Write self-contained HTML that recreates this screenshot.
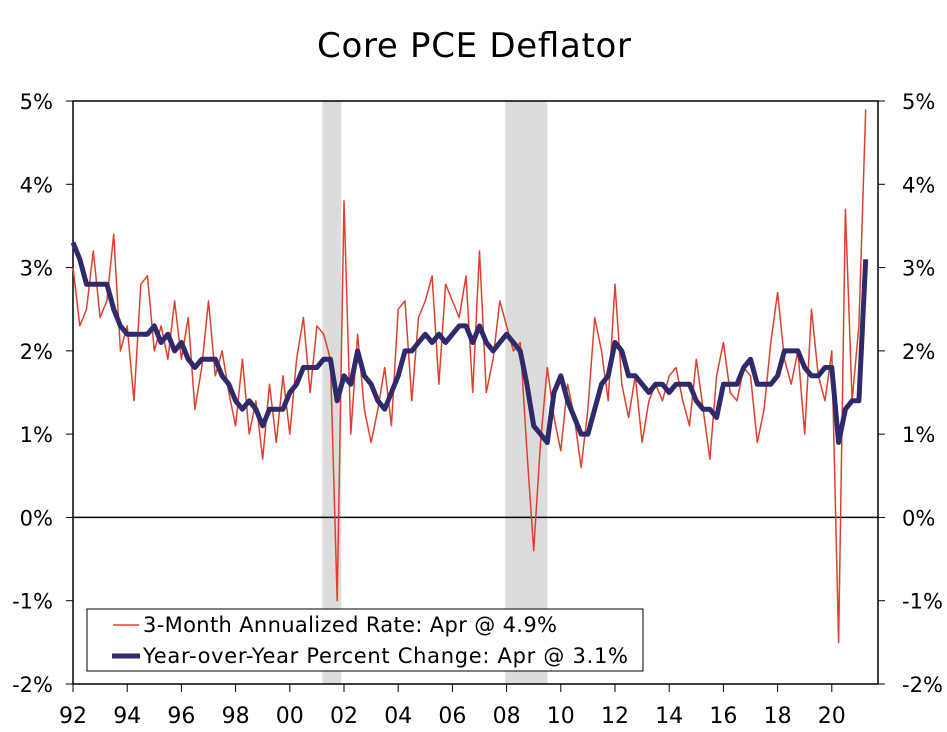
<!DOCTYPE html>
<html><head><meta charset="utf-8"><style>
body{margin:0;background:#fff;}
svg text{font-family:"DejaVu Sans","Liberation Sans",sans-serif;fill:#000;}
</style></head><body>
<svg width="947" height="727" viewBox="0 0 947 727">
<text x="474" y="57" font-size="34" text-anchor="middle" textLength="314">Core PCE Deflator</text>
<g id="rec"></g>
<g id="axes"></g>
<g id="series"></g>
<g>
<rect x="87" y="609" width="556" height="62" fill="#fff" stroke="#000" stroke-width="1"/>
<line x1="113" y1="625" x2="139" y2="625" stroke="#e0402a" stroke-width="1.5"/>
<text x="143" y="632" font-size="21" textLength="414">3-Month Annualized Rate: Apr @ 4.9%</text>
<line x1="112" y1="656" x2="140" y2="656" stroke="#2e2a6b" stroke-width="5"/>
<text x="143" y="663" font-size="21" textLength="485">Year-over-Year Percent Change: Apr @ 3.1%</text>
</g>
</svg>
<script>
const recessions=[[2001.2,2001.9],[2007.95,2009.5]];
const yTicks=[-2,-1,0,1,2,3,4,5];
const xTickYears=[1992,1994,1996,1998,2000,2002,2004,2006,2008,2010,2012,2014,2016,2018,2020];
const xTickLabels=["92","94","96","98","00","02","04","06","08","10","12","14","16","18","20"];
const startYear=1992, step=0.25;
const rate3m=[3.0,2.3,2.5,3.2, 2.4,2.6,3.4,2.0, 2.3,1.4,2.8,2.9, 2.0,2.3,1.9,2.6, 1.9,2.4,1.3,1.8, 2.6,1.7,2.0,1.5, 1.1,1.9,1.0,1.4, 0.7,1.6,0.9,1.7, 1.0,1.9,2.4,1.5, 2.3,2.2,1.9,-1.0, 3.8,1.0,2.2,1.3, 0.9,1.3,1.8,1.1, 2.5,2.6,1.4,2.4, 2.6,2.9,1.6,2.8, 2.6,2.4,2.9,1.5, 3.2,1.5,1.9,2.6, 2.3,2.0,2.1,0.8, -0.4,0.9,1.8,1.2, 0.8,1.6,1.2,0.6, 1.3,2.4,2.0,1.4, 2.8,1.6,1.2,1.7, 0.9,1.4,1.6,1.4, 1.7,1.8,1.4,1.1, 1.9,1.3,0.7,1.7, 2.1,1.5,1.4,1.8, 1.7,0.9,1.3,2.1, 2.7,1.9,1.6,2.0, 1.0,2.5,1.7,1.4, 2.0,-1.5,3.7,1.4, 2.3,4.9];
const yoy=[3.3,3.1,2.8,2.8, 2.8,2.8,2.5,2.3, 2.2,2.2,2.2,2.2, 2.3,2.1,2.2,2.0, 2.1,1.9,1.8,1.9, 1.9,1.9,1.7,1.6, 1.4,1.3,1.4,1.3, 1.1,1.3,1.3,1.3, 1.5,1.6,1.8,1.8, 1.8,1.9,1.9,1.4, 1.7,1.6,2.0,1.7, 1.6,1.4,1.3,1.5, 1.7,2.0,2.0,2.1, 2.2,2.1,2.2,2.1, 2.2,2.3,2.3,2.1, 2.3,2.1,2.0,2.1, 2.2,2.1,2.0,1.6, 1.1,1.0,0.9,1.5, 1.7,1.4,1.2,1.0, 1.0,1.3,1.6,1.7, 2.1,2.0,1.7,1.7, 1.6,1.5,1.6,1.6, 1.5,1.6,1.6,1.6, 1.4,1.3,1.3,1.2, 1.6,1.6,1.6,1.8, 1.9,1.6,1.6,1.6, 1.7,2.0,2.0,2.0, 1.8,1.7,1.7,1.8, 1.8,0.9,1.3,1.4, 1.4,3.1];

const L=73,R=878,T=101,B=684,NS='http://www.w3.org/2000/svg';
const xs=yr=>L+(yr-1992)*27.1;
const ys=v=>T+(5-v)*(B-T)/7;
function mk(tag,attrs,parent){const e=document.createElementNS(NS,tag);for(const k in attrs)e.setAttribute(k,attrs[k]);parent.appendChild(e);return e;}
const rec=document.getElementById('rec'),axes=document.getElementById('axes'),ser=document.getElementById('series');
recessions.forEach((r,i)=>{const e=mk('rect',{x:xs(r[0]),y:T,width:xs(r[1])-xs(r[0]),height:B-T,fill:'#dcdcdc'},rec);

});
const frame=mk('rect',{x:L,y:T,width:R-L,height:B-T,fill:'none',stroke:'#000','stroke-width':1.5},axes);


const zero=mk('line',{x1:L,x2:R,y1:ys(0),y2:ys(0),stroke:'#000','stroke-width':1.5},axes);


yTicks.forEach(v=>{const y=ys(v);
mk('line',{x1:L-7,x2:L,y1:y,y2:y,stroke:'#000'},axes);
mk('line',{x1:R,x2:R+7,y1:y,y2:y,stroke:'#000'},axes);
const t1=mk('text',{x:53,y:y+8,'font-size':21,'text-anchor':'end'},axes);t1.textContent=v+'%';


const t2=mk('text',{x:R+24,y:y+8,'font-size':21},axes);t2.textContent=v+'%';

});
xTickYears.forEach((yr,i)=>{const x=xs(yr);
mk('line',{x1:x,x2:x,y1:B,y2:B+8,stroke:'#000'},axes);
const t=mk('text',{x:x,y:B+39,'font-size':22,'text-anchor':'middle'},axes);t.textContent=xTickLabels[i];

});
function path(arr){return arr.map((v,i)=>(i?'L':'M')+xs(startYear+i*step).toFixed(1)+' '+ys(v).toFixed(1)).join(' ');}
const p1=mk('path',{d:path(rate3m),fill:'none',stroke:'#e0402a','stroke-width':1.5,'stroke-linejoin':'round'},ser);


const p2=mk('path',{d:path(yoy),fill:'none',stroke:'#2e2a6b','stroke-width':5,'stroke-linejoin':'round'},ser);


</script>
</body></html>
